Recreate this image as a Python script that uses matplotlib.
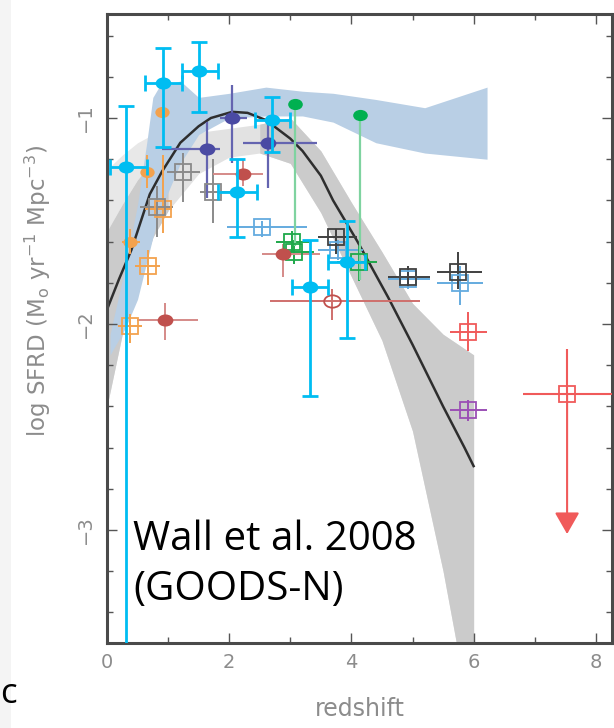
import numpy as np
import matplotlib.pyplot as plt
from matplotlib.path import Path
from matplotlib.patches import Rectangle
from matplotlib.ticker import MultipleLocator

# best-fit SFRD(z) curve
fit_z = [0.0, 0.2, 0.4, 0.7, 0.9, 1.2, 1.5, 1.7, 2.05, 2.3, 2.6, 3.0, 3.2, 3.5, 3.7, 4.1, 4.6, 5.0, 5.5, 5.85, 6.0]
fit_sfrd = [-1.93, -1.78, -1.64, -1.37, -1.26, -1.12, -1.04, -1.00, -0.97, -0.975, -1.01, -1.10, -1.16,
            -1.28, -1.40, -1.60, -1.87, -2.10, -2.40, -2.60, -2.69]

# spread of the posterior samples (grey) and the GOODS-N band (blue)
samp_z = [0.0, 0.25, 0.5, 0.75, 1.0, 1.5, 2.0, 2.5, 3.0, 3.5, 4.0, 4.5, 5.0, 5.5, 5.75, 6.0]
samp_hi = [-1.55, -1.42, -1.30, -1.21, -1.14, -1.07, -1.05, -1.03, -1.00, -1.16, -1.41, -1.65, -1.90, -2.05, -2.10, -2.15]
samp_lo = [-2.40, -2.05, -1.80, -1.58, -1.45, -1.27, -1.19, -1.17, -1.22, -1.46, -1.77, -2.08, -2.52, -3.20, -3.60, -3.60]
faint_z = [0.0, 0.25, 0.5, 0.75, 1.0, 1.25]
faint_hi = [-1.25, -1.18, -1.12, -1.08, -1.06, -1.06]
faint_lo = [-1.55, -1.42, -1.30, -1.21, -1.14, -1.10]

goods_z = [0.05, 0.3, 0.5, 0.65, 0.75, 0.85, 1.0, 1.2, 1.5, 2.0, 2.6, 3.2, 3.7, 4.4, 5.2, 6.22]
goods_hi = [-2.05, -1.72, -1.42, -1.12, -0.90, -0.85, -0.84, -0.82, -0.90, -0.88, -0.85, -0.87, -0.88, -0.91, -0.95, -0.85]
goods_lo = [-2.15, -2.02, -1.88, -1.70, -1.58, -1.46, -1.36, -1.22, -1.08, -1.00, -0.99, -0.99, -1.02, -1.12, -1.17, -1.20]

# cyan measurements
cyan_z = [0.31, 0.92, 1.51, 2.13, 2.70, 3.32, 3.93]
cyan_sfrd = [-1.24, -0.83, -0.77, -1.36, -1.01, -1.82, -1.70]
cyan_zlo = [0.26, 0.30, 0.28, 0.31, 0.28, 0.29, 0.31]
cyan_zhi = [0.34, 0.31, 0.31, 0.32, 0.30, 0.30, 0.29]
cyan_lo = [2.50, 0.31, 0.20, 0.22, 0.155, 0.53, 0.37]
cyan_hi = [0.30, 0.17, 0.14, 0.16, 0.11, 0.23, 0.20]

# dark blue
navy_z = [1.64, 2.05, 2.64]
navy_sfrd = [-1.15, -1.00, -1.12]
navy_zlo = [0.74, 0.20, 0.41]
navy_zhi = [0.21, 0.24, 0.80]
navy_lo = [0.24, 0.22, 0.22]
navy_hi = [0.13, 0.16, 0.10]

# brick red filled + open circle
brick_z = [0.95, 2.23, 2.88]
brick_sfrd = [-1.98, -1.27, -1.66]
brick_zlo = [0.46, 0.50, 0.34]
brick_zhi = [0.54, 0.32, 0.61]
brick_lo = [0.10, 0.06, 0.11]
brick_hi = [0.08, 0.07, 0.05]
ring_z, ring_sfrd = [3.68], [-1.89]
ring_zlo, ring_zhi, ring_lo, ring_hi = [1.01], [1.44], [0.09], [0.06]

# green: filled points with long lower bars, open squares
gdot_z = [3.08, 4.14]
gdot_sfrd = [-0.93, -0.985]
gdot_lo = [0.69, 0.80]
gsq_z = [3.02, 3.06, 4.12]
gsq_sfrd = [-1.60, -1.65, -1.70]
gsq_zlo = [0.25, 0.26, 0.36]
gsq_zhi = [0.28, 0.33, 0.30]
gsq_lo = [0.05, 0.06, 0.09]
gsq_hi = [0.05, 0.06, 0.08]

# grey open squares
grey_z = [0.82, 1.25, 1.74]
grey_sfrd = [-1.43, -1.26, -1.36]
grey_zlo = [0.28, 0.27, 0.22]
grey_zhi = [0.26, 0.27, 0.27]
grey_lo = [0.15, 0.15, 0.15]
grey_hi = [0.10, 0.09, 0.16]
dgrey_z = [3.75, 4.93, 5.74]
dgrey_sfrd = [-1.58, -1.77, -1.75]
dgrey_zlo = [0.30, 0.33, 0.34]
dgrey_zhi = [0.34, 0.36, 0.40]
dgrey_lo = [0.08, 0.05, 0.08]
dgrey_hi = [0.04, 0.05, 0.10]

# light blue open squares
lblue_z = [2.54, 3.78, 4.93, 5.78]
lblue_sfrd = [-1.53, -1.64, -1.78, -1.80]
lblue_zlo = [0.58, 0.33, 0.33, 0.38]
lblue_zhi = [0.73, 0.41, 0.36, 0.37]
lblue_lo = [0.05, 0.05, 0.05, 0.11]
lblue_hi = [0.03, 0.05, 0.04, 0.08]

# orange filled and open
ordot_z = [0.90, 0.65, 0.38]
ordot_sfrd = [-0.97, -1.26, -1.60]
ordot_zlo = [0.0, 0.10, 0.13]
ordot_zhi = [0.0, 0.10, 0.16]
ordot_lo = [0.0, 0.08, 0.06]
ordot_hi = [0.0, 0.08, 0.06]
orsq_z = [0.92, 0.67, 0.38]
orsq_sfrd = [-1.44, -1.72, -2.01]
orsq_zlo = [0.30, 0.21, 0.20]
orsq_zhi = [0.14, 0.20, 0.19]
orsq_lo = [0.12, 0.09, 0.08]
orsq_hi = [0.26, 0.08, 0.06]

# high-z squares and the z~7.5 upper limit
red_z, red_sfrd = [5.91], [-2.04]
red_zlo, red_zhi, red_lo, red_hi = [0.30], [0.31], [0.09], [0.10]
purple_z, purple_sfrd = [5.91], [-2.42]
purple_zlo, purple_zhi, purple_lo, purple_hi = [0.30], [0.31], [0.05], [0.05]
lim_z, lim_sfrd = 7.53, -2.34
lim_zlo, lim_zhi, lim_hi = 0.72, 0.77, 0.22
lim_tip = -3.02

fig = plt.figure(figsize=(6.14, 7.28), dpi=100)
fig.patches.append(Rectangle((0, 0), 11 / 614, 1, transform=fig.transFigure,
                             facecolor='#f4f4f4', edgecolor='none', zorder=0))
fig.text(0.5 / 614, 1 - 703 / 728, 'c', family='Open Sans', fontsize=25, ha='left', va='baseline')

ax = fig.add_axes([107 / 614, 85 / 728, 505 / 614, 629 / 728])

# grey sample band: solid where the samples pile up, paler around the peak
solid_left = [i for i, z in enumerate(samp_z) if z <= 1.0]
solid_right = [i for i, z in enumerate(samp_z) if z >= 2.5]
ax.fill_between(faint_z, faint_lo, faint_hi, color='#e8e8e8', lw=0, zorder=1)
ax.fill_between(samp_z, samp_lo, samp_hi, color='#e2e2e2', lw=0, zorder=1.1)
for idx in (solid_left, solid_right):
    ax.fill_between([samp_z[i] for i in idx], [samp_lo[i] for i in idx],
                    [samp_hi[i] for i in idx], color='#cbcbcb', lw=0, zorder=1.2)
ax.fill_between(goods_z, goods_lo, goods_hi, color='#b9cfe5', lw=0, zorder=1.5)
ax.plot(fit_z, fit_sfrd, color='#2e2e2e', lw=1.8, zorder=2)

circ = Path.unit_circle()
oval = Path(circ.vertices * [1.35, 1.0], circ.codes)


def points(z, y, zlo, zhi, ylo, yhi, color, marker='s', ms=12, filled=False,
           lw=1.4, ecolor=None, capsize=0, z_order=3):
    ax.errorbar(z, y, xerr=[zlo, zhi], yerr=[ylo, yhi], fmt='none',
                ecolor=ecolor or color, elinewidth=lw, capsize=capsize,
                capthick=lw, zorder=z_order)
    ax.plot(z, y, ls='none', marker=marker, ms=ms, mew=1.3, mec=color,
            mfc=color if filled else 'none', zorder=z_order + 0.1)


points(orsq_z, orsq_sfrd, orsq_zlo, orsq_zhi, orsq_lo, orsq_hi, '#f3a24e')
points(ordot_z, ordot_sfrd, ordot_zlo, ordot_zhi, ordot_lo, ordot_hi, '#f3a24e', marker=oval, ms=9, filled=True)
points(grey_z, grey_sfrd, grey_zlo, grey_zhi, grey_lo, grey_hi, '#8a8a8a')
points(lblue_z, lblue_sfrd, lblue_zlo, lblue_zhi, lblue_lo, lblue_hi, '#64abdf')
points(dgrey_z, dgrey_sfrd, dgrey_zlo, dgrey_zhi, dgrey_lo, dgrey_hi, '#404040')
points(gsq_z, gsq_sfrd, gsq_zlo, gsq_zhi, gsq_lo, gsq_hi, '#1ea84a')
points(brick_z, brick_sfrd, brick_zlo, brick_zhi, brick_lo, brick_hi, '#c0504d',
       marker=oval, ms=10, filled=True, ecolor='#d58a88')
points(ring_z, ring_sfrd, ring_zlo, ring_zhi, ring_lo, ring_hi, '#c0504d',
       marker=oval, ms=12, ecolor='#cf6f6c')
points(red_z, red_sfrd, red_zlo, red_zhi, red_lo, red_hi, '#f05a5a')
points(purple_z, purple_sfrd, purple_zlo, purple_zhi, purple_lo, purple_hi, '#9b4fb5')
points(navy_z, navy_sfrd, navy_zlo, navy_zhi, navy_lo, navy_hi, '#4a4aa3',
       marker=oval, ms=10, filled=True, ecolor='#6464b0', lw=1.6)

# green points with lower bars only
ax.errorbar(gdot_z, gdot_sfrd, yerr=[gdot_lo, np.zeros(len(gdot_lo))], fmt='none',
            ecolor='#7fd3a0', elinewidth=1.6, zorder=3)
ax.plot(gdot_z, gdot_sfrd, ls='none', marker=oval, ms=9.5, color='#00b050', zorder=3.2)

points(cyan_z, cyan_sfrd, cyan_zlo, cyan_zhi, cyan_lo, cyan_hi, '#00bdf2',
       marker=oval, ms=10, filled=True, lw=2.0, capsize=6, z_order=4)

# upper limit at z~7.5
ax.errorbar([lim_z], [lim_sfrd], xerr=[[lim_zlo], [lim_zhi]], yerr=[[0], [lim_hi]],
            fmt='none', ecolor='#f05a5a', elinewidth=1.5, zorder=3)
ax.plot([lim_z], [lim_sfrd], ls='none', marker='s', ms=12, mew=1.3, mec='#f05a5a', mfc='none', zorder=3.1)
ax.annotate('', xy=(lim_z, lim_tip), xytext=(lim_z, lim_sfrd),
            arrowprops=dict(arrowstyle='-|>,head_length=0.7,head_width=0.4', color='#f05a5a',
                            lw=1.5, mutation_scale=19, shrinkA=0, shrinkB=0), zorder=3)

ax.text(0.43, -3.34, 'Wall et al. 2008\n(GOODS-N)', family='Open Sans', fontsize=29,
        va='baseline', ha='left', linespacing=1.32, zorder=5)

ax.set_xlim(0, 8.265)
ax.set_ylim(-3.549, -0.495)
ax.xaxis.set_major_locator(MultipleLocator(2))
ax.xaxis.set_minor_locator(MultipleLocator(1))
ax.yaxis.set_major_locator(MultipleLocator(1))
ax.yaxis.set_minor_locator(MultipleLocator(0.2))

for sp in ax.spines.values():
    sp.set_color('#4a4a4a')
    sp.set_linewidth(2.2)
ax.tick_params(which='both', direction='in', top=True, right=True, color='#555555',
               labelcolor='#8c8c8c', labelsize=14, width=1)
ax.tick_params(which='major', length=7)
ax.tick_params(which='minor', length=4)
ax.tick_params(axis='x', pad=7)
ax.tick_params(axis='y', pad=9, labelrotation=90)
for lab in ax.get_yticklabels():
    lab.set_va('center')

ax.set_xlabel('redshift', fontsize=17, color='#8c8c8c', va='top')
ax.xaxis.set_label_coords(0.5, -0.086)
ax.set_ylabel(r'log SFRD (M$_\mathrm{o}$ yr$^{-1}$ Mpc$^{-3}$)', fontsize=16.5, color='#8c8c8c')
ax.yaxis.set_label_coords(-0.107, 0.559)

fig.savefig('out.png', dpi=100)
